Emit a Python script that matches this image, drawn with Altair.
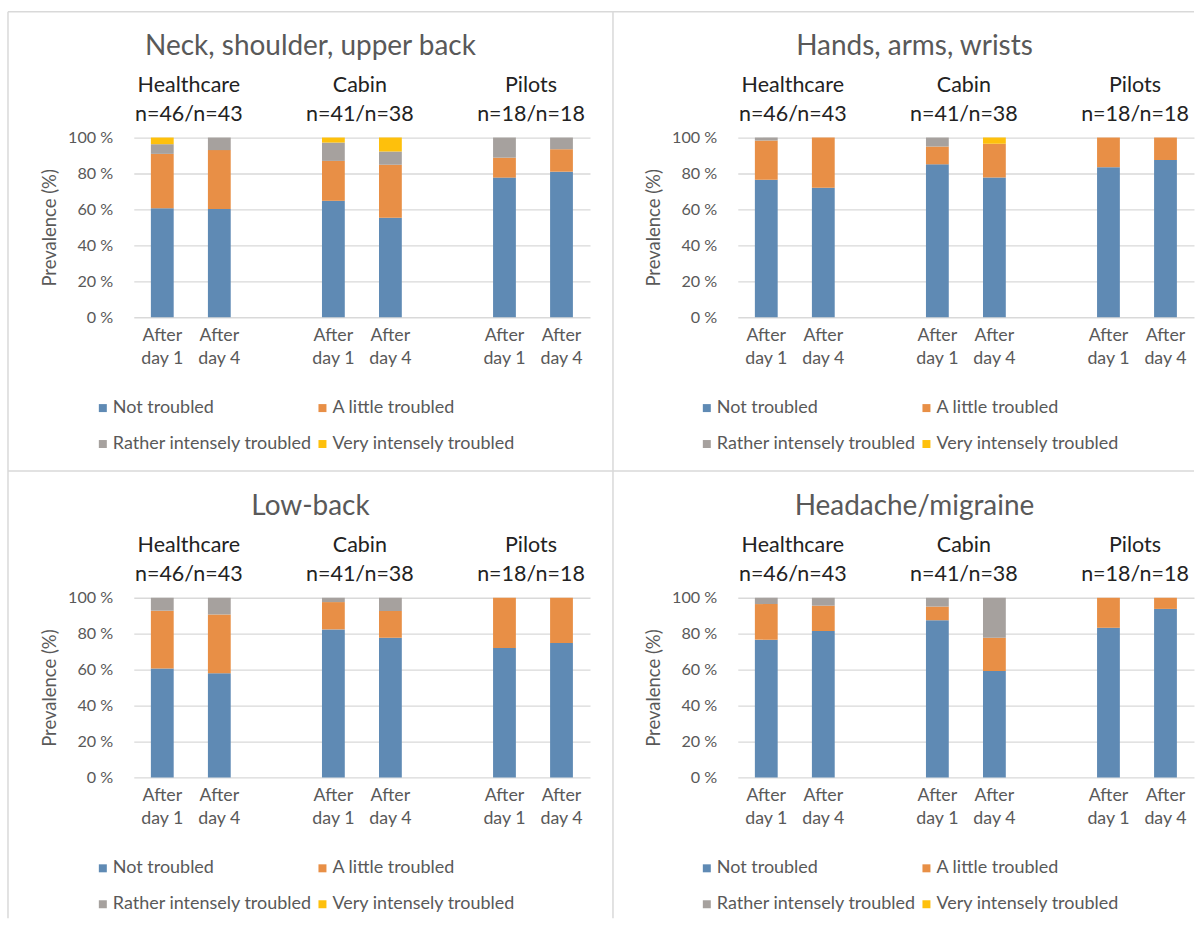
import altair as alt
import pandas as pd

# ---------------- data ----------------
categories = ["Not troubled", "A little troubled",
              "Rather intensely troubled", "Very intensely troubled"]
colors = ["#5f8ab4", "#e88f46", "#a6a19e", "#fec00c"]

bar_keys = ["HC_d1", "HC_d4", "CA_d1", "CA_d4", "PI_d1", "PI_d4"]
x_domain = ["HC_d1", "HC_d4", "gap1", "CA_d1", "CA_d4", "gap2", "PI_d1", "PI_d4"]

groups = ["Healthcare", "Cabin", "Pilots"]
group_n = ["n=46/n=43", "n=41/n=38", "n=18/n=18"]
group_first_key = ["HC_d1", "CA_d1", "PI_d1"]

titles = ["Neck, shoulder, upper back", "Hands, arms, wrists",
          "Low-back", "Headache/migraine"]

neck_not = [60.6, 60.3, 64.8, 55.4, 77.7, 81.0]
neck_little = [30.3, 32.7, 22.2, 29.4, 11.1, 12.5]
neck_rather = [5.4, 7.0, 10.2, 7.4, 11.2, 6.5]
neck_very = [3.7, 0.0, 2.8, 7.8, 0.0, 0.0]

hands_not = [76.5, 72.1, 85.1, 77.8, 83.5, 87.5]
hands_little = [21.8, 27.9, 9.9, 18.7, 16.5, 12.5]
hands_rather = [1.7, 0.0, 5.0, 0.0, 0.0, 0.0]
hands_very = [0.0, 0.0, 0.0, 3.5, 0.0, 0.0]

low_not = [60.6, 58.0, 82.4, 77.8, 72.0, 74.8]
low_little = [32.2, 32.7, 15.2, 14.8, 28.0, 25.2]
low_rather = [7.2, 9.3, 2.4, 7.4, 0.0, 0.0]
low_very = [0.0, 0.0, 0.0, 0.0, 0.0, 0.0]

head_not = [76.7, 81.5, 87.5, 59.3, 83.3, 93.8]
head_little = [19.8, 14.1, 7.6, 18.5, 16.7, 6.2]
head_rather = [3.5, 4.4, 4.9, 22.2, 0.0, 0.0]
head_very = [0.0, 0.0, 0.0, 0.0, 0.0, 0.0]

panel_series = [
    [neck_not, neck_little, neck_rather, neck_very],
    [hands_not, hands_little, hands_rather, hands_very],
    [low_not, low_little, low_rather, low_very],
    [head_not, head_little, head_rather, head_very],
]

# ---------------- style ----------------
FONT = "Lato"
GRAY_TXT = "#595959"
BORDER = "#d9d9d9"
W, H = 457, 180
STEP = W / len(x_domain)

group_df = pd.DataFrame({"key": group_first_key, "group": groups, "n": group_n})


def border(x, y, x2=None, y2=None):
    enc = {"x": alt.value(x), "y": alt.value(y)}
    if x2 is not None:
        enc["x2"] = alt.value(x2)
    if y2 is not None:
        enc["y2"] = alt.value(y2)
    return alt.Chart(alt.Data(values=[{}])).mark_rule(
        color=BORDER, strokeWidth=1.5).encode(**enc)


def make_panel(idx):
    series = panel_series[idx]
    rows = []
    for ci, cat in enumerate(categories):
        for bi, key in enumerate(bar_keys):
            rows.append({"key": key, "cat": cat, "order": ci,
                         "value": series[ci][bi]})
    df = pd.DataFrame(rows)

    x_enc = alt.X(
        "key:N",
        scale=alt.Scale(domain=x_domain, paddingInner=0.6, paddingOuter=0.3),
        axis=alt.Axis(
            title=None, domain=False, ticks=False, labelAngle=0,
            labelExpr="indexof(datum.value,'gap')>=0 ? '' : "
                      "(slice(datum.value,-1)=='1' ? ['After','day 1'] : ['After','day 4'])",
            labelFont=FONT, labelFontSize=17.8, labelColor=GRAY_TXT,
            labelPadding=9, labelLineHeight=23,
        ),
    )

    bars = alt.Chart(df).mark_bar().encode(
        x=x_enc,
        y=alt.Y(
            "value:Q", stack="zero",
            scale=alt.Scale(domain=[0, 100]),
            axis=alt.Axis(
                values=[0, 20, 40, 60, 80, 100],
                labelExpr="datum.value + ' %'",
                grid=True, gridColor=BORDER, gridWidth=1.3,
                domain=False, ticks=False,
                labelFont=FONT, labelFontSize=16.2, labelColor=GRAY_TXT,
                labelPadding=21,
                title="Prevalence (%)", titleFont=FONT, titleFontSize=18.5,
                titleColor=GRAY_TXT, titleFontWeight="normal", titlePadding=8,
            ),
        ),
        color=alt.Color(
            "cat:N",
            scale=alt.Scale(domain=categories, range=colors),
            legend=alt.Legend(
                title=None, orient="none", legendX=-40, legendY=262,
                direction="horizontal",
                columns=2, columnPadding=1, rowPadding=18,
                symbolType="square", symbolSize=64, symbolStrokeWidth=0,
                labelFont=FONT, labelFontSize=18, labelColor=GRAY_TXT,
                labelOffset=1, padding=0, labelLimit=400,
            ),
        ),
        order=alt.Order("order:Q", sort="ascending"),
    )

    g_name = alt.Chart(group_df).mark_text(
        font=FONT, fontSize=21.5, color="#222222", dx=STEP / 2 - 2,
        baseline="middle", align="center",
    ).encode(x=alt.X("key:N"), y=alt.value(-52), text="group:N")

    g_n = alt.Chart(group_df).mark_text(
        font=FONT, fontSize=21.5, color="#222222", dx=STEP / 2 - 2,
        baseline="middle", align="center",
    ).encode(x=alt.X("key:N"), y=alt.value(-23), text="n:N")

    title = alt.Chart(alt.Data(values=[{"t": titles[idx]}])).mark_text(
        font=FONT, fontSize=28, color=GRAY_TXT, baseline="middle", align="center",
    ).encode(x=alt.value(177), y=alt.value(-91), text="t:N")

    layers = [bars, g_name, g_n, title]
    if idx == 0:
        layers += [border(-126, -126, x2=480), border(-126, -126, y2=334),
                   border(480, -126, y2=334), border(-126, 334, x2=480)]
    elif idx == 1:
        layers += [border(-125, -126, x2=W), border(-125, 334, x2=W)]
    elif idx == 2:
        layers += [border(-126, -127, y2=321), border(480, -127, y2=321)]

    return alt.layer(*layers).properties(width=W, height=H)


panels = [make_panel(i) for i in range(4)]

chart = alt.concat(
    *panels, columns=2, spacing={"row": 281, "column": 148}, bounds="flush"
).resolve_scale(color="independent").properties(
    padding={"left": 7, "top": 10, "right": 0, "bottom": 0},
    background="white",
).configure_view(stroke=None).configure_text(font=FONT)

chart.save("out.html", embed_options={"renderer": "svg", "actions": False})
